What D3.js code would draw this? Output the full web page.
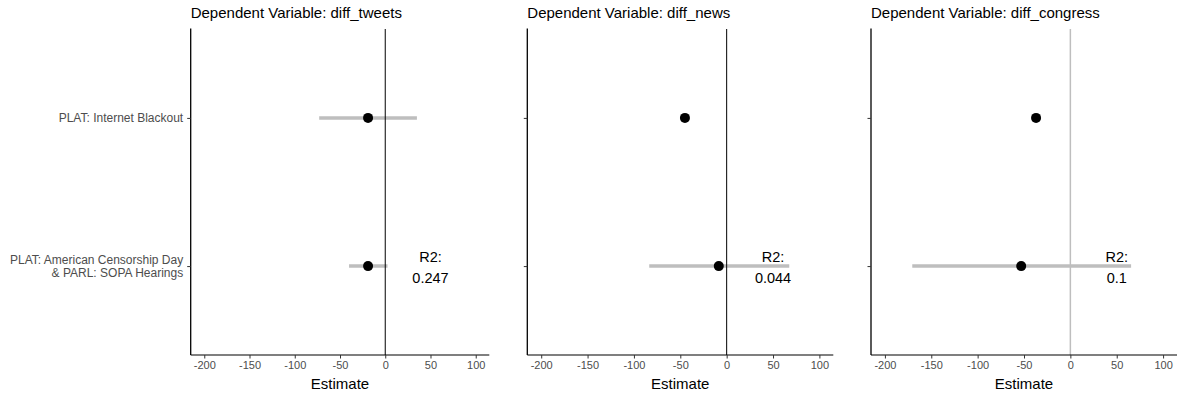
<!DOCTYPE html>
<html>
<head>
<meta charset="utf-8">
<script src="https://cdn.jsdelivr.net/npm/d3@7"></script>
<style>
  body { margin: 0; background: #fff; }
  svg { display: block; font-family: "Liberation Sans", Arial, sans-serif; }
</style>
</head>
<body>
<script>
// terms (top to bottom), one panel per dependent variable
var terms = ["PLAT: Internet Blackout", "PLAT: American Censorship Day\n& PARL: SOPA Hearings"];
var models = ["diff_tweets", "diff_news", "diff_congress"];

// estimates and 95% intervals, per model, in the order of terms
var estimates = [[-19, -19], [-45, -8.5], [-37, -53]];
var lower = [[-73, -40], [null, -83.5], [null, -170.5]];
var upper = [[35, 2.5], [null, 67.5], [null, 65.5]];
var r2 = ["0.247", "0.044", "0.1"];

var xTicks = [-200, -150, -100, -50, 0, 50, 100];
var xLimits = [-215, 115];

// panel plot areas
var panels = [
  {left: 190.7, right: 489.3, zero: "#000", zeroW: 1},
  {left: 527.3, right: 833.3, zero: "#000", zeroW: 1},
  {left: 871, right: 1177, zero: "#bebebe", zeroW: 1.5}
];
var plotTop = 29, plotBottom = 355;

var svg = d3.select("body").append("svg")
    .attr("width", 1180)
    .attr("height", 394);

var y = d3.scalePoint().domain(terms).range([plotTop, plotBottom]).padding(0.6);

panels.forEach(function(p, i) {
  var x = d3.scaleLinear().domain(xLimits).range([p.left, p.right]);
  var g = svg.append("g");

  // title
  g.append("text")
      .attr("x", p.left)
      .attr("y", 18)
      .style("font-size", "15px")
      .style("fill", "#000")
      .text("Dependent Variable: " + models[i]);

  // confidence intervals
  terms.forEach(function(t, j) {
    if (lower[i][j] == null) return;
    g.append("line")
        .attr("x1", x(lower[i][j]))
        .attr("x2", x(upper[i][j]))
        .attr("y1", y(t))
        .attr("y2", y(t))
        .style("stroke", "#bebebe")
        .style("stroke-width", 3.5);
  });

  // zero line
  g.append("line")
      .attr("x1", x(0)).attr("x2", x(0))
      .attr("y1", plotTop).attr("y2", plotBottom)
      .style("stroke", p.zero)
      .style("stroke-width", p.zeroW);

  // points
  g.selectAll("circle")
    .data(terms)
    .enter()
    .append("circle")
      .attr("cx", function(t, j) { return x(estimates[i][j]); })
      .attr("cy", function(t) { return y(t); })
      .attr("r", 5)
      .style("fill", "#000");

  // R2 label next to last term
  var lab = g.append("text")
      .attr("text-anchor", "middle")
      .style("font-size", "14.5px")
      .style("fill", "#000");
  lab.append("tspan").attr("x", x(50)).attr("y", y(terms[1]) - 4.5).text("R2:");
  lab.append("tspan").attr("x", x(50)).attr("y", y(terms[1]) + 17).text(r2[i]);

  // x axis
  var xa = g.append("g")
      .attr("transform", "translate(0," + plotBottom + ")")
      .call(d3.axisBottom(x).tickValues(xTicks).tickSize(3.5).tickPadding(3)
            .tickFormat(function(d) { return d; }));
  xa.select(".domain").style("stroke", "#000").style("stroke-width", 1.1)
      .attr("d", "M" + p.left + ",0H" + p.right);
  xa.selectAll(".tick line").style("stroke", "#333");
  xa.selectAll(".tick text").style("font-size", "11px").style("fill", "#4d4d4d")
      .style("font-family", "Liberation Sans, Arial, sans-serif");

  // y axis
  var ya = g.append("g")
      .attr("transform", "translate(" + p.left + ",0)")
      .call(d3.axisLeft(y).tickSize(3.5).tickPadding(3));
  ya.select(".domain").style("stroke", "#000").style("stroke-width", 1.3)
      .attr("d", "M0," + (plotTop - 0.5) + "V" + plotBottom);
  ya.selectAll(".tick line").style("stroke", "#333");
  ya.selectAll(".tick text").remove();
  if (i === 0) {
    ya.selectAll(".tick").each(function(t) {
      var lines = t.split("\n");
      var txt = d3.select(this).append("text")
          .attr("x", -7.5)
          .attr("text-anchor", "end")
          .style("font-size", "12px")
          .style("fill", "#4d4d4d")
          .style("font-family", "Liberation Sans, Arial, sans-serif");
      lines.forEach(function(l, k) {
        txt.append("tspan")
            .attr("x", -7.5)
            .attr("y", 4 + (k - (lines.length - 1) / 2) * 12.6)
            .text(l);
      });
    });
  }

  // axis title
  g.append("text")
      .attr("x", (p.left + p.right) / 2)
      .attr("y", 388.5)
      .attr("text-anchor", "middle")
      .style("font-size", "15px")
      .style("fill", "#000")
      .text("Estimate");
});
</script>
</body>
</html>
